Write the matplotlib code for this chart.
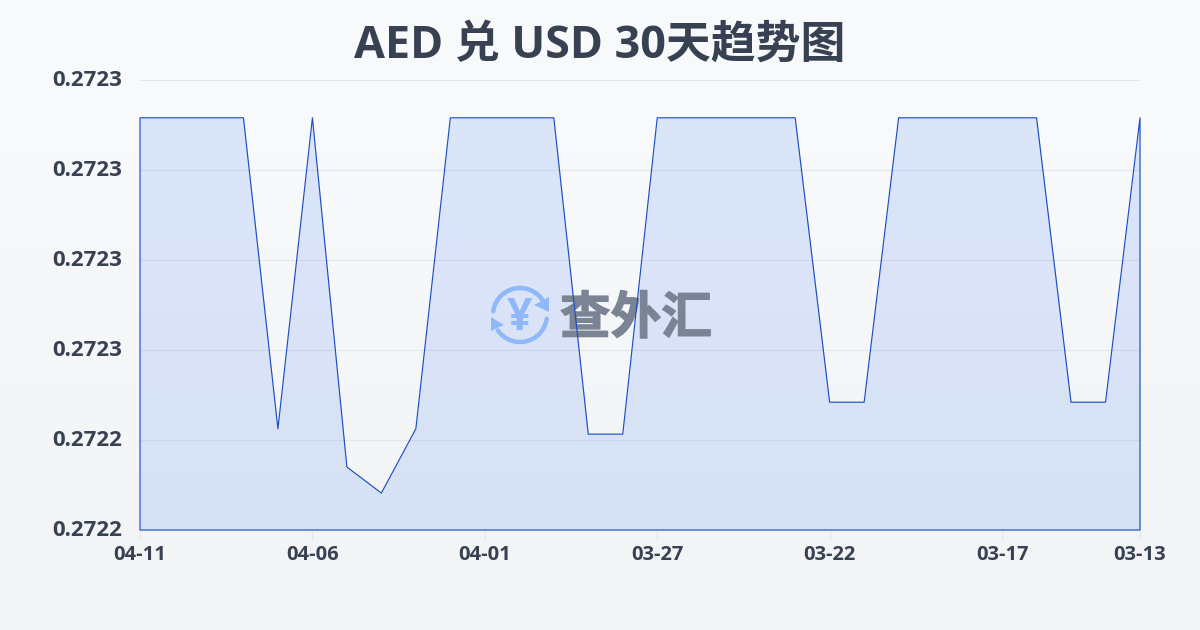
import numpy as np
import matplotlib
matplotlib.use("Agg")
import matplotlib.pyplot as plt
import matplotlib.patheffects as pe
from matplotlib.patches import Polygon
from matplotlib.transforms import Affine2D, ScaledTranslation

plt.rcParams['font.family'] = ['Open Sans', 'Noto Sans CJK SC', 'DejaVu Sans']

dates = ["04-11", "04-10", "04-09", "04-08", "04-07", "04-06", "04-05", "04-04", "04-03", "04-02",
         "04-01", "03-31", "03-30", "03-29", "03-28", "03-27", "03-26", "03-25", "03-24", "03-23",
         "03-22", "03-21", "03-20", "03-19", "03-18", "03-17", "03-16", "03-15", "03-14", "03-13"]
rates = [0.2723116, 0.2723116, 0.2723116, 0.2723116, 0.2722425, 0.2723116, 0.272234, 0.2722282, 0.2722425, 0.2723116,
         0.2723116, 0.2723116, 0.2723116, 0.2722413, 0.2722413, 0.2723116, 0.2723116, 0.2723116, 0.2723116, 0.2723116,
         0.2722484, 0.2722484, 0.2723116, 0.2723116, 0.2723116, 0.2723116, 0.2723116, 0.2722484, 0.2722484, 0.2723116]
y_ticks = [0.27222, 0.27224, 0.27226, 0.27228, 0.27230, 0.27232]
x_tick_idx = [0, 5, 10, 15, 20, 25, 29]

W, H = 1200, 630
TEXT = "#374151"
BLUE = "#2563eb"
LINE = "#1d4fc4"
ICON = "#8fb8f8"

fig = plt.figure(figsize=(12, 6.3), dpi=100)

# fondo degradado
bg = fig.add_axes([0, 0, 1, 1], zorder=0)
bg.imshow(np.array([[0], [1]]), aspect="auto", extent=[0, 1, 0, 1], interpolation="bicubic",
          cmap=matplotlib.colors.LinearSegmentedColormap.from_list("bg", ["#f8fafc", "#f2f4f6"]))
bg.axis("off")

ax = fig.add_axes([140 / W, (H - 530) / H, 1000 / W, 450 / H], zorder=1)
ax.patch.set_alpha(0)
x = np.arange(len(rates))
base = y_ticks[0]

ax.fill_between(x, rates, base, color=BLUE, alpha=0.13, lw=0, zorder=2)
ax.fill_between(x, rates, base, facecolor="none", edgecolor=LINE, lw=0.85, zorder=4, clip_on=False)

ax.set_xlim(0, len(rates) - 1)
ax.set_ylim(y_ticks[0], y_ticks[-1])
ax.set_xticks(x_tick_idx, [dates[i] for i in x_tick_idx])
ax.set_yticks(y_ticks)
ax.yaxis.set_major_formatter(matplotlib.ticker.FormatStrFormatter("%.4f"))
ax.grid(axis="y", color="#e3e6eb", lw=0.8, zorder=1)
ax.set_axisbelow(True)
for s in ax.spines.values():
    s.set_visible(False)
ax.tick_params(axis="x", length=7, width=0.8, color="#e3e6eb", pad=4, labelsize=14.5, labelcolor=TEXT)
ax.tick_params(axis="y", length=0, pad=13, labelsize=16, labelcolor=TEXT)
for lab in ax.get_xticklabels() + ax.get_yticklabels():
    lab.set_fontweight("bold")
for lab in ax.get_yticklabels():
    lab.set_transform(lab.get_transform() + ScaledTranslation(0, 2 / 100, fig.dpi_scale_trans))

fig.text(600 / W, (H - 46) / H, "AED 兑 USD 30天趋势图", ha="center", va="center",
         fontsize=32.3, fontweight="bold", color=TEXT)

# marca de agua en coordenadas de pixel, debajo de la linea
px = Affine2D().scale(1, -1).translate(0, H)
ang = np.radians(np.linspace(172, 35, 40))
ax.plot(520 + 27 * np.cos(ang), 315 - 27 * np.sin(ang), color=ICON, lw=3.2, solid_capstyle="round",
        transform=px, zorder=3, clip_on=False)
ang = np.radians(np.linspace(-8, -145, 40))
ax.plot(520 + 27 * np.cos(ang), 315 - 27 * np.sin(ang), color=ICON, lw=3.2, solid_capstyle="round",
        transform=px, zorder=3, clip_on=False)
ax.add_patch(Polygon([(549, 297), (549, 312), (534, 305)], closed=True, color=ICON, lw=0, transform=px, zorder=3))
ax.add_patch(Polygon([(491, 317), (491, 331), (504, 325)], closed=True, color=ICON, lw=0, transform=px, zorder=3))
ax.text(520, 318, "¥", transform=px, ha="center", va="center", fontsize=32, fontweight="bold",
        color=ICON, family=["Open Sans", "DejaVu Sans"], zorder=3)
wm = ax.text(636, 319, "查外汇", transform=px, ha="center", va="center", fontsize=36.5, fontweight="bold",
             color="#7b8494", family=["Noto Sans CJK SC", "DejaVu Sans"], zorder=3)
wm.set_path_effects([pe.withStroke(linewidth=1, foreground="#7b8494")])

fig.savefig("out.png", dpi=100)
